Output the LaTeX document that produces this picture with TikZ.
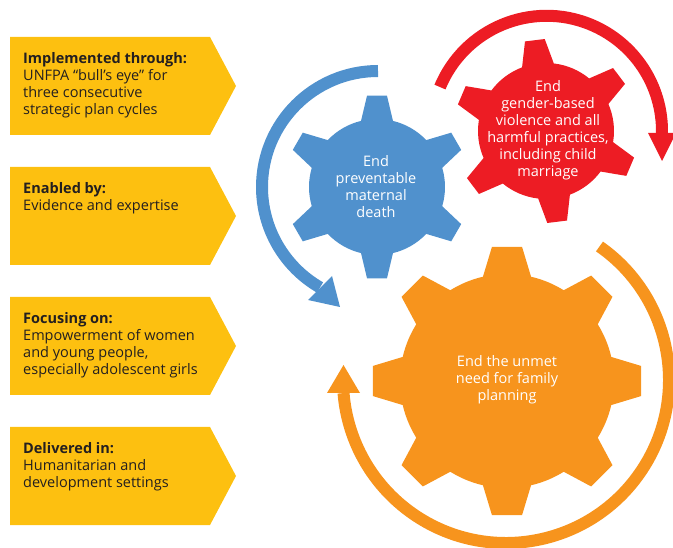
\documentclass[tikz,border=0pt]{standalone}
\usepackage{fontspec}
\setmainfont{Open Sans}
\definecolor{ybox}{HTML}{FDC010}
\definecolor{gblue}{HTML}{5091CD}
\definecolor{gred}{HTML}{ED1C24}
\definecolor{gorange}{HTML}{F7941D}
\definecolor{tdark}{HTML}{231F20}
\newcommand\drawgear[9]{% #1 color,#2 cx,#3 cy,#4 n,#5 Rb,#6 Rt,#7 ab,#8 at,#9 offset
  \pgfmathsetmacro\gstep{360/#4}
  \fill[#1,shift={(#2,#3)}] ({#9-#7}:#5)
  \foreach \k in {1,...,#4}{
    -- ({#9+(\k-1)*\gstep-#8}:#6) -- ({#9+(\k-1)*\gstep+#8}:#6) -- ({#9+(\k-1)*\gstep+#7}:#5)
    arc[start angle={#9+(\k-1)*\gstep+#7}, end angle={#9+\k*\gstep-#7}, radius=#5]
  } -- cycle;
}
\begin{document}
\begin{tikzpicture}[x=1pt,y=-1pt,
  boxtext/.style={font=\fontsize{14.5}{17}\selectfont, text=tdark, align=left, anchor=north west, inner sep=0pt},
  geartext/.style={font=\fontsize{14.5}{17}\selectfont, text=white, align=center, inner sep=0pt},
  ring/.style={line width=12pt}]
\useasboundingbox (0,0) rectangle (673,548);
% yellow boxes
\foreach \t in {37,167,297,427}{
  \fill[ybox] (10,\t) -- (210,\t) -- (236,\t+49) -- (210,\t+98) -- (10,\t+98) -- cycle;
}
\node[boxtext] (b1) at (23,52.5) {\textbf{Implemented through:}\\UNFPA “bull’s eye” for\\three consecutive\\strategic plan cycles};
\node[boxtext] (b2) at (23,182.5) {\textbf{Enabled by:}\\Evidence and expertise};
\node[boxtext] (b3) at (23,312.5) {\textbf{Focusing on:}\\Empowerment of women\\and young people,\\especially adolescent girls};
\node[boxtext] (b4) at (23,442.5) {\textbf{Delivered in:}\\Humanitarian and\\development settings};
% gears
\drawgear{gblue}{377}{187}{6}{68}{92}{13.6}{6.2}{30}
\drawgear{gred}{546}{131}{6}{68}{92}{13.6}{6.2}{23}
\drawgear{gorange}{507}{381}{8}{107}{135}{13}{6.4}{0}
% arcs with arrowheads
\draw[ring,gblue] ([shift={(378,187)}]-90:116) arc[start angle=-90, end angle=-240, radius=116];
\fill[gblue] (308,300) -- (332,276) -- (340,307) -- cycle;
\draw[ring,gred] ([shift={(546.6,131.2)}]-157.5:115.4) arc[start angle=-157.5, end angle=1, radius=115.4];
\fill[gred] (648,133) -- (676,133) -- (662,161) -- cycle;
\draw[ring,gorange] ([shift={(506,380)}]-55:163) arc[start angle=-55, end angle=175.4, radius=163];
\fill[gorange] (327,393) -- (360,393) -- (343.5,365) -- cycle;
% gear texts
\node[geartext] (gb) at (376,187) {End\\preventable\\maternal\\death};
\node[geartext] (gr) at (548,130) {End\\gender-based\\violence and all\\harmful practices,\\including child\\marriage};
\node[geartext] (go) at (507,380) {End the unmet\\need for family\\planning};
\end{tikzpicture}
\end{document}
